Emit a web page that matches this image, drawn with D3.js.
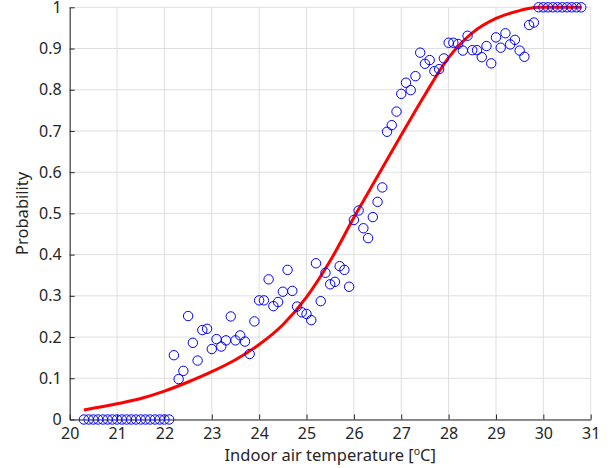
<!DOCTYPE html>
<html><head><meta charset="utf-8">
<script src="https://cdn.jsdelivr.net/npm/d3@7"></script>
<style>body{margin:0;background:#fff}</style>
</head><body>
<svg id="chart" width="608" height="468"></svg>
<script>
// Observed data (temperature, probability)
const zeroTemps = [20.3,20.4,20.5,20.6,20.7,20.8,20.9,21.0,21.1,21.2,21.3,21.4,21.5,21.6,21.7,21.8,21.9,22.0,22.1];
const midTemps = [22.2,22.3,22.4,22.5,22.6,22.7,22.8,22.9,23.0,23.1,23.2,23.3,23.4,23.5,23.6,23.7,23.8,23.9,24.0,24.1,
  24.2,24.3,24.4,24.5,24.6,24.7,24.8,24.9,25.0,25.1,25.2,25.3,25.4,25.5,25.6,25.7,25.8,25.9,26.0,26.1,
  26.2,26.3,26.4,26.5,26.6,26.7,26.8,26.9,27.0,27.1,27.2,27.3,27.4,27.5,27.6,27.7,27.8,27.9,28.0,28.1,
  28.2,28.3,28.4,28.5,28.6,28.7,28.8,28.9,29.0,29.1,29.2,29.3,29.4,29.5,29.6,29.7,29.8];
const midProbs = [0.156,0.098,0.118,0.251,0.186,0.143,0.217,0.220,0.171,0.195,0.177,0.192,0.250,0.192,0.204,0.189,0.159,0.238,0.289,0.289,
  0.340,0.275,0.285,0.310,0.363,0.312,0.274,0.260,0.256,0.241,0.379,0.287,0.356,0.328,0.334,0.372,0.363,0.322,0.484,0.507,
  0.464,0.440,0.491,0.528,0.563,0.698,0.714,0.747,0.790,0.817,0.799,0.833,0.890,0.863,0.872,0.845,0.850,0.876,0.914,0.914,
  0.911,0.895,0.931,0.896,0.896,0.879,0.906,0.864,0.927,0.902,0.937,0.910,0.921,0.895,0.880,0.957,0.963];
const oneTemps = [29.9,30.0,30.1,30.2,30.3,30.4,30.5,30.6,30.7,30.8];

// Fitted curve
const fitTemps = [20.3,21.0,21.5,22.0,22.5,23.0,23.5,24.0,24.5,25.0,25.5,26.0,26.5,27.0,27.5,28.0,28.5,29.0,29.5,29.9,30.8];
const fitProbs = [0.023,0.038,0.051,0.069,0.091,0.116,0.145,0.182,0.230,0.297,0.385,0.490,0.590,0.690,0.788,0.878,0.938,0.973,0.992,1.0,1.0];

const xTicks = [20,21,22,23,24,25,26,27,28,29,30,31];
const yTicks = [0,0.1,0.2,0.3,0.4,0.5,0.6,0.7,0.8,0.9,1];

const points = [];
zeroTemps.forEach(t => points.push([t, 0]));
midTemps.forEach((t, i) => points.push([t, midProbs[i]]));
oneTemps.forEach(t => points.push([t, 1]));
const fit = fitTemps.map((t, i) => [t, fitProbs[i]]);

const L = 69.7, R = 590.7, T = 7.3, B = 419.5;
const svg = d3.select("#chart");
const x = d3.scaleLinear().domain([20, 31]).range([L, R]);
const y = d3.scaleLinear().domain([0, 1]).range([B, T]);
const font = "'Noto Sans', 'Liberation Sans', Arial, sans-serif";
const ink = "#262626";

// grid
const grid = svg.append("g").attr("stroke", "#dfdfdf").attr("stroke-width", 1);
grid.selectAll("line.v").data(xTicks).join("line")
  .attr("x1", d => x(d)).attr("x2", d => x(d)).attr("y1", T).attr("y2", B);
grid.selectAll("line.h").data(yTicks).join("line")
  .attr("y1", d => y(d)).attr("y2", d => y(d)).attr("x1", L).attr("x2", R);

// axes
const xAxis = svg.append("g").attr("transform", `translate(0,${B})`)
  .call(d3.axisBottom(x).tickValues(xTicks).tickFormat(d3.format("d")).tickSizeInner(-5).tickSizeOuter(0).tickPadding(8));
const yAxis = svg.append("g").attr("transform", `translate(${L},0)`)
  .call(d3.axisLeft(y).tickValues(yTicks).tickFormat(d => d === 0 || d === 1 ? String(d) : d3.format(".1f")(d)).tickSizeInner(-5).tickSizeOuter(0).tickPadding(8));
[xAxis, yAxis].forEach(a => {
  a.select(".domain").attr("stroke", ink).attr("stroke-width", 1);
  a.selectAll(".tick line").attr("stroke", ink);
  a.selectAll(".tick text").attr("fill", ink).attr("font-family", font).attr("font-size", 16);
});

// fitted curve
svg.append("path").datum(fit)
  .attr("fill", "none").attr("stroke", "#ff0000").attr("stroke-width", 3)
  .attr("d", d3.line().x(d => x(d[0])).y(d => y(d[1])).curve(d3.curveMonotoneX));

// points
svg.append("g").selectAll("circle").data(points).join("circle")
  .attr("cx", d => x(d[0])).attr("cy", d => y(d[1])).attr("r", 4.7)
  .attr("fill", "none").attr("stroke", "#0000ff").attr("stroke-width", 1);

// labels
const xl = svg.append("text").attr("x", (L + R) / 2).attr("y", 461)
  .attr("text-anchor", "middle").attr("font-family", font).attr("font-size", 16.5).attr("fill", ink);
xl.append("tspan").text("Indoor air temperature [");
xl.append("tspan").attr("font-size", 10.5).attr("dy", -6).text("o");
xl.append("tspan").attr("dy", 6).text("C]");

svg.append("text").attr("transform", `translate(28,${(T + B) / 2}) rotate(-90)`)
  .attr("text-anchor", "middle").attr("font-family", font).attr("font-size", 16.5).attr("fill", ink)
  .text("Probability");
</script>
</body></html>
